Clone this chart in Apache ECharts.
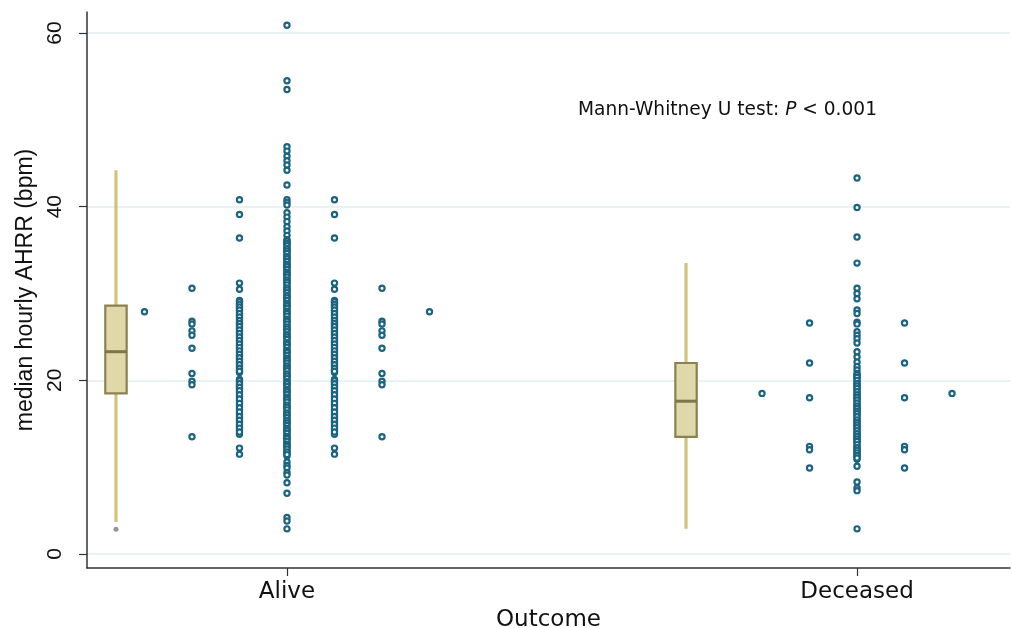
<!DOCTYPE html>
<html>
<head>
<meta charset="utf-8">
<script src="https://cdn.jsdelivr.net/npm/echarts@6/dist/echarts.min.js"></script>
<style>html,body{margin:0;padding:0;background:#fff}#c{width:1012px;height:628px}</style>
</head>
<body>
<div id="c"></div>
<script>
// ---- data ----
var categories = ['Alive', 'Deceased'];
var categoryPos = [0, 12];
var yTicks = [0, 20, 40, 60];

// dot-plot columns (values in bpm); column k is drawn at offsets +k and -k
var aliveCol0 = [60.9, 54.5, 53.5, 46.9, 46.4, 45.8, 45.3, 44.8, 44.2, 42.5, 40.8, 40.5, 40.2, 39.3, 38.8, 38.3, 37.7, 37.2, 36.7,
  36.2, 35.9, 35.7, 35.3, 35.0, 34.8, 34.4, 34.1, 33.9, 33.5, 33.2, 33.0, 32.6, 32.3, 32.1, 31.7, 31.4, 31.2, 30.8, 30.5, 30.3,
  29.9, 29.6, 29.4, 29.0, 28.7, 28.5, 28.1, 27.8, 27.6, 27.2, 26.9, 26.7, 26.3, 26.0, 25.8, 25.4, 25.1, 24.9, 24.5, 24.2, 24.0,
  23.6, 23.3, 23.1, 22.7, 22.4, 22.2, 21.8, 21.5, 21.3, 20.9, 20.6, 20.4, 20.0, 19.7, 19.5, 19.1, 18.8, 18.6, 18.2, 17.9, 17.7,
  17.3, 17.0, 16.8, 16.4, 16.1, 15.9, 15.5, 15.2, 15.0, 14.6, 14.3, 14.1, 13.7, 13.4, 13.2, 12.8, 12.5, 12.3, 11.9, 11.6, 11.3,
  36.05, 35.8, 35.5, 35.15, 34.9, 34.6, 34.25, 34.0, 33.7, 33.35, 33.1, 32.8, 32.45, 32.2, 31.9, 31.55, 31.3, 31.0, 30.65,
  30.4, 30.1, 29.75, 29.5, 29.2, 28.85, 28.6, 28.3, 27.95, 27.7, 27.4, 27.05, 26.8, 26.5, 26.15, 25.9, 25.6, 25.25, 25.0,
  24.7, 24.35, 24.1, 23.8, 23.45, 23.2, 22.9, 22.55, 22.3, 22.0, 21.65, 21.4, 21.1, 20.75, 20.5, 20.2, 19.85, 19.6, 19.3,
  18.95, 18.7, 18.4, 18.05, 17.8, 17.5, 17.15, 16.9, 16.6, 16.25, 16.0, 15.7, 15.35, 15.1, 14.8, 14.45, 14.2, 13.9, 13.55,
  13.3, 13.0, 12.65, 12.4, 12.1, 11.75, 11.45,
  10.6, 10.2, 9.9, 9.4, 9.1, 8.2, 7.0, 4.2, 3.8, 2.9];
var aliveCol1 = [40.8, 39.1, 36.4, 31.2, 30.5, 29.2, 28.9, 28.6, 28.3, 27.9, 27.5, 27.1, 26.7, 26.4, 26.0, 25.6, 25.2, 24.8,
  24.4, 24.0, 23.6, 23.2, 22.8, 22.4, 22.0, 21.6, 21.2, 20.9, 20.1, 19.8, 19.4, 19.0, 18.6, 18.1, 17.6, 17.1, 16.6, 16.1,
  15.6, 15.2, 14.7, 14.3, 13.8,
  29.05, 28.75, 28.45, 28.1, 27.7, 27.3, 26.9, 26.55, 26.2, 25.8, 25.4, 25.0, 24.6, 24.2, 23.8, 23.4, 23.0, 22.6, 22.2,
  21.8, 21.4, 21.05, 19.95, 19.6, 19.2, 18.8, 18.35, 17.85, 17.35, 16.85, 16.35, 15.85, 15.4, 14.95, 14.5, 14.05,
  12.2, 11.5];
var aliveCol2 = [30.6, 26.8, 26.5, 25.7, 25.2, 23.7, 20.8, 19.9, 19.5, 13.5];
var aliveCol3 = [27.9];

var deceasedCol0 = [43.3, 39.9, 36.5, 33.5, 30.6, 30.0, 29.4, 28.1, 27.7, 26.7, 26.5, 25.6, 25.2, 24.8, 24.3, 23.3, 22.7,
  22.1, 21.6, 21.2, 20.8, 20.5, 20.2, 19.8, 19.5, 19.2, 18.9, 18.5, 18.2, 17.9, 17.6, 17.2, 16.9, 16.6, 16.3, 16.0, 15.6,
  15.3, 15.0, 14.7, 14.4, 14.0, 13.7, 13.4, 13.1, 12.8, 12.4, 12.1, 11.8, 11.5, 11.2, 10.9,
  20.65, 20.35, 20.0, 19.65, 19.35, 19.05, 18.7, 18.35, 18.05, 17.75, 17.4, 17.05, 16.75, 16.45, 16.15, 15.8, 15.45,
  15.15, 14.85, 14.55, 14.2, 13.85, 13.55, 13.25, 12.95, 12.6, 12.25, 11.95, 11.65, 11.35, 11.05,
  10.1, 8.3, 7.6, 7.3, 2.9];
var deceasedCol1 = [26.6, 22.0, 18.0, 12.4, 12.0, 9.9];
var deceasedCol2 = [18.5];

// box plot summaries: [low whisker, q1, median, q3, high whisker]
var aliveBox = [3.7, 18.5, 23.3, 28.6, 44.2];
var deceasedBox = [2.9, 13.5, 17.6, 22.0, 33.5];
var aliveOutliers = [2.85];
var deceasedOutliers = [];

// ---- build ----
var boxOffset = -3.6, boxWidth = 0.45;
function cols(center, arr) {
  var out = [];
  arr.forEach(function (col, k) {
    col.forEach(function (v) {
      out.push([center + k, v]);
      if (k > 0) out.push([center - k, v]);
    });
  });
  return out;
}
var dots = cols(categoryPos[0], [aliveCol0, aliveCol1, aliveCol2, aliveCol3])
  .concat(cols(categoryPos[1], [deceasedCol0, deceasedCol1, deceasedCol2]));
var boxes = [[categoryPos[0] + boxOffset].concat(aliveBox), [categoryPos[1] + boxOffset].concat(deceasedBox)];
var outl = aliveOutliers.map(function (v) { return [categoryPos[0] + boxOffset, v]; })
  .concat(deceasedOutliers.map(function (v) { return [categoryPos[1] + boxOffset, v]; }));

var chart = echarts.init(document.getElementById('c'));
var axisColor = '#333';
chart.setOption({
  backgroundColor: '#fff',
  animation: false,
  title: {
    left: 578, top: 101, padding: 0,
    text: '{a|Mann-Whitney U test: }{b|P}{a| < 0.001}',
    textStyle: {
      fontWeight: 'normal',
      rich: {
        a: { fontFamily: 'DejaVu Sans', fontSize: 18.6, fontWeight: 'normal', color: '#111' },
        b: { fontFamily: 'DejaVu Sans', fontSize: 18.6, fontWeight: 'normal', color: '#111', fontStyle: 'italic' }
      }
    }
  },
  grid: { left: 87, right: 2, top: 12, bottom: 60, containLabel: false, outerBoundsMode: 'none' },
  xAxis: {
    type: 'value', min: -4.21, max: 15.22,
    name: 'Outcome', nameLocation: 'middle', nameGap: 38,
    nameTextStyle: { fontFamily: 'DejaVu Sans', fontSize: 23, color: '#111' },
    axisLine: { show: true, onZero: false, lineStyle: { color: axisColor, width: 1.5 } },
    axisTick: { show: true, length: 8, customValues: categoryPos, lineStyle: { color: axisColor, width: 1.2 } },
    axisLabel: {
      customValues: categoryPos, margin: 13,
      fontFamily: 'DejaVu Sans', fontSize: 23, color: '#111',
      formatter: function (v) { var i = categoryPos.indexOf(v); return i >= 0 ? categories[i] : ''; }
    },
    splitLine: { show: false }
  },
  yAxis: {
    type: 'value', min: -1.61, max: 62.42,
    name: 'median hourly AHRR (bpm)', nameLocation: 'middle', nameGap: 48, nameRotate: 90,
    nameTextStyle: { fontFamily: 'Liberation Sans', fontSize: 23, color: '#111' },
    axisLine: { show: true, onZero: false, lineStyle: { color: axisColor, width: 1.5 } },
    axisTick: { show: true, length: 8, customValues: yTicks, lineStyle: { color: axisColor, width: 1.2 } },
    axisLabel: { customValues: yTicks, rotate: 90, margin: 21, fontFamily: 'Liberation Sans', fontSize: 21, color: '#111' },
    splitLine: { show: true, lineStyle: { color: '#e2eef0', width: 1.5 } }
  },
  series: [
    {
      type: 'custom',
      data: boxes,
      encode: { x: 0, y: [1, 2, 3, 4, 5] },
      z: 2,
      renderItem: function (params, api) {
        var x = api.value(0);
        var lo = api.coord([x, api.value(1)]);
        var q1 = api.coord([x, api.value(2)]);
        var md = api.coord([x, api.value(3)]);
        var q3 = api.coord([x, api.value(4)]);
        var hi = api.coord([x, api.value(5)]);
        var w = api.size([boxWidth, 0])[0];
        return {
          type: 'group', children: [
            { type: 'line', shape: { x1: lo[0], y1: lo[1], x2: hi[0], y2: hi[1] }, style: { stroke: '#cfc27f', lineWidth: 3.2 } },
            { type: 'rect', shape: { x: q3[0] - w / 2, y: q3[1], width: w, height: q1[1] - q3[1] }, style: { fill: '#dfd9aa', stroke: '#8b8150', lineWidth: 2.2 } },
            { type: 'line', shape: { x1: md[0] - w / 2, y1: md[1], x2: md[0] + w / 2, y2: md[1] }, style: { stroke: '#7e7548', lineWidth: 3 } }
          ]
        };
      }
    },
    {
      type: 'scatter', data: outl, symbol: 'circle', symbolSize: 5, z: 3,
      itemStyle: { color: '#7a7a7a' }
    },
    {
      type: 'scatter', data: dots, symbol: 'circle', symbolSize: 5.2, z: 4,
      itemStyle: { color: '#ffffff', borderColor: '#1a6381', borderWidth: 2.2, opacity: 1 }
    }
  ]
});
</script>
</body>
</html>
